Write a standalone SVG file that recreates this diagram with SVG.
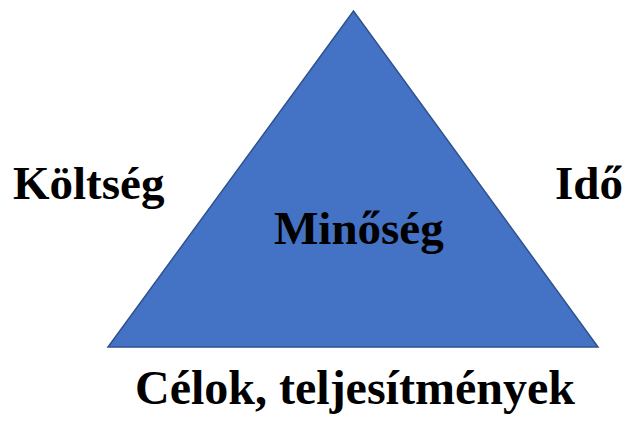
<svg xmlns="http://www.w3.org/2000/svg" width="625" height="421" viewBox="0 0 625 421">
<style>
.lbl{font-family:"Liberation Serif","Times New Roman",serif;font-weight:bold;font-size:47px;fill:#000}
</style>
<rect width="625" height="421" fill="#fff"/>
<g id="triangle">
<polygon points="353.5,11 108,347 598,347" fill="#4472C4" stroke="#2F528F" stroke-width="1.5" stroke-linejoin="miter"/>
</g>
<g id="label-minoseg"><text class="lbl" x="274" y="244">Minőség</text></g>
<g id="label-koltseg"><text class="lbl" x="13" y="199">Költség</text></g>
<g id="label-ido"><text class="lbl" x="555" y="199">Idő</text></g>
<g id="label-celok"><text class="lbl" x="135" y="404" style="font-size:48px">Célok, teljesítmények</text></g>
<g id="connectors"></g>
</svg>
